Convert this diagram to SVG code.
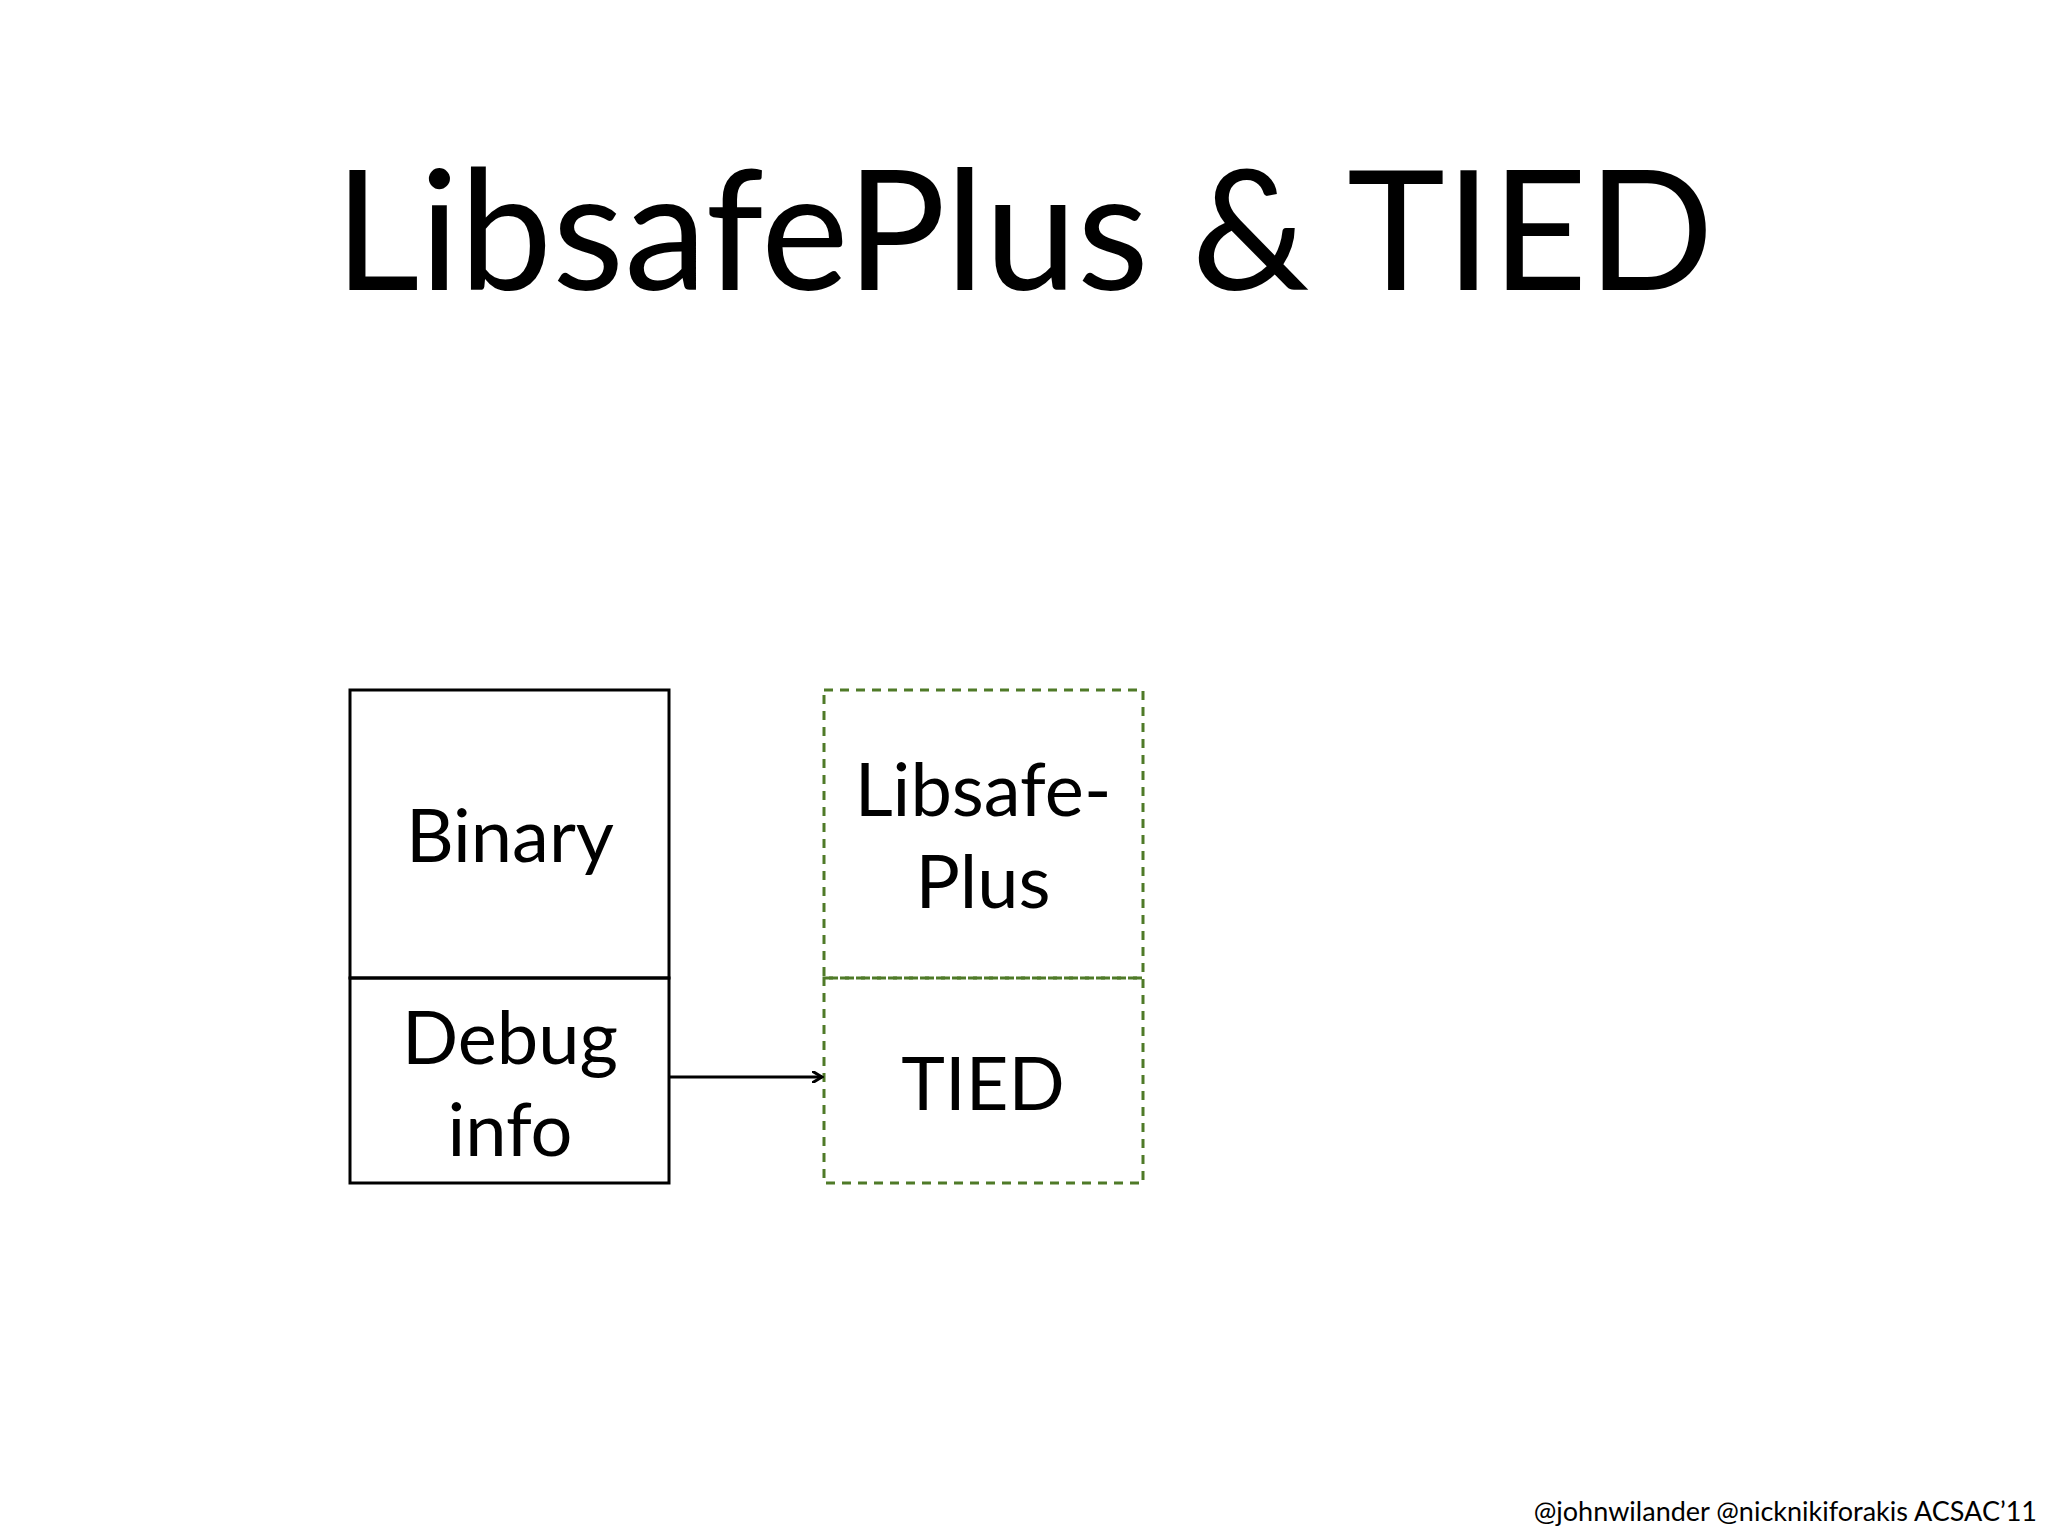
<svg xmlns="http://www.w3.org/2000/svg" width="2048" height="1536" viewBox="0 0 2048 1536">
<defs>
<style>
text{font-family:"Lato","Liberation Sans",sans-serif;fill:#000;text-anchor:middle}
.lbl{font-size:74px}
.solid{fill:none;stroke:#000;stroke-width:3}
.dash{fill:none;stroke:#4f7a28;stroke-width:3;stroke-dasharray:9 7}
</style>
<marker id="ah" markerWidth="12" markerHeight="12" refX="10" refY="6" orient="auto" markerUnits="userSpaceOnUse">
<path d="M0,0 L10,6 L0,12" fill="none" stroke="#000" stroke-width="3"/>
</marker>
</defs>
<rect width="2048" height="1536" fill="#fff"/>
<text x="1024" y="290" font-size="166">LibsafePlus &amp; TIED</text>
<g id="binary">
<rect class="solid" x="350" y="690" width="319" height="288"/>
<text class="lbl" x="510" y="862">Binary</text>
</g>
<g id="debug">
<rect class="solid" x="350" y="978" width="319" height="205"/>
<text class="lbl" x="510" y="1064">Debug</text>
<text class="lbl" x="510" y="1156">info</text>
</g>
<g id="libsafeplus">
<rect class="dash" x="824" y="690" width="319" height="288"/>
<text class="lbl" x="983" y="816">Libsafe-</text>
<text class="lbl" x="983" y="908">Plus</text>
</g>
<g id="tied">
<rect class="dash" x="824" y="978" width="319" height="205"/>
<text class="lbl" x="983" y="1110">TIED</text>
</g>
<g id="connectors">
<line x1="669" y1="1077" x2="822" y2="1077" stroke="#000" stroke-width="3" marker-end="url(#ah)"/>
</g>
<text x="2037" y="1521" font-size="27" style="text-anchor:end">@johnwilander @nicknikiforakis ACSAC’11</text>
</svg>
